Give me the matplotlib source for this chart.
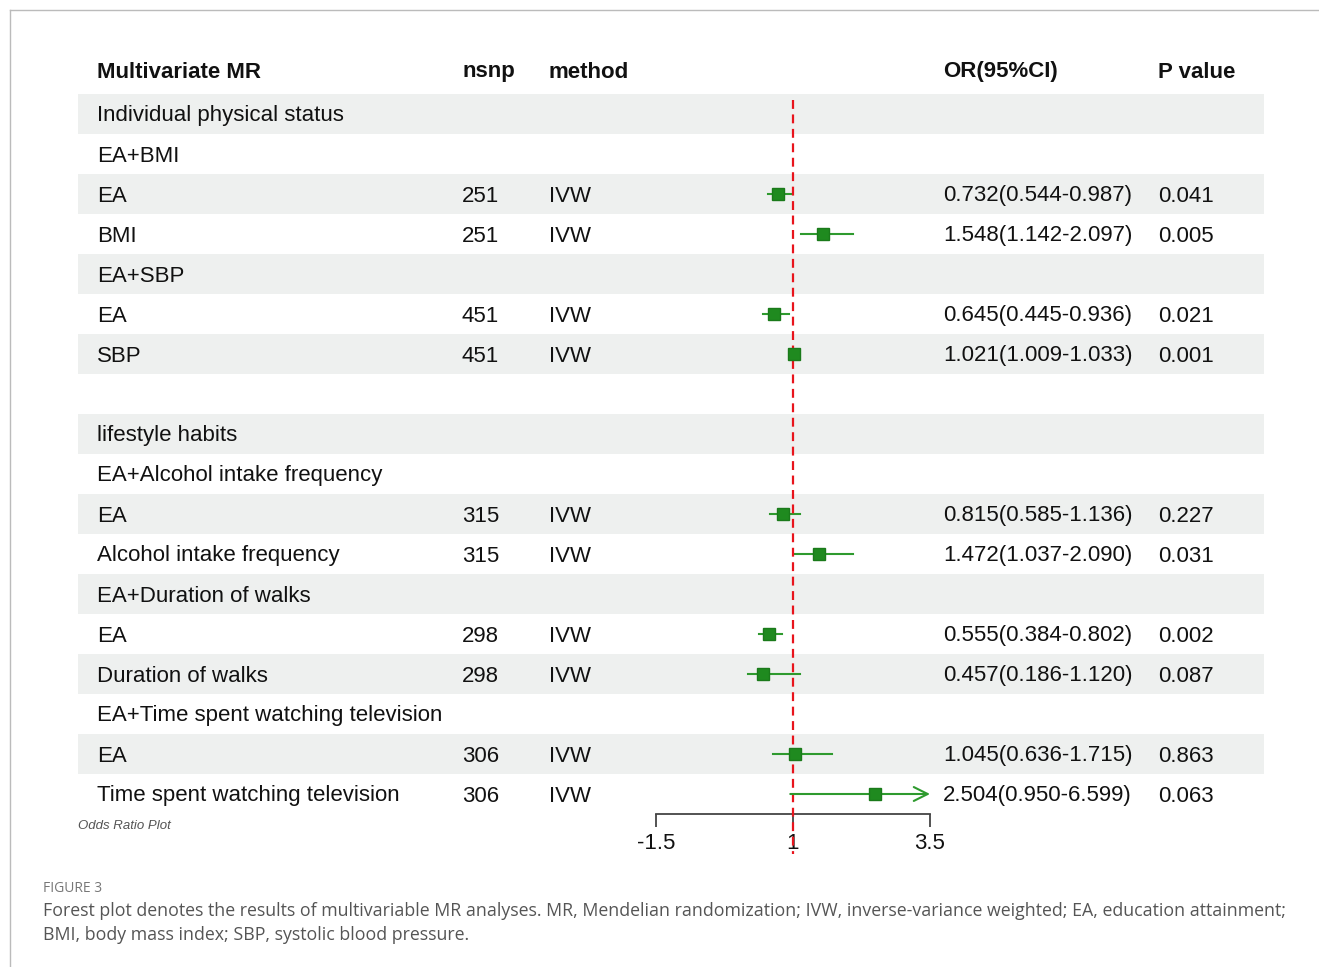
import matplotlib.pyplot as plt
import numpy as np
from matplotlib.lines import Line2D

plt.rcParams['font.family'] = ['Liberation Sans', 'DejaVu Sans']

nan = np.nan

# table rows, top to bottom
labels = ["Individual physical status", "EA+BMI", "EA", "BMI", "EA+SBP", "EA", "SBP", "",
          "lifestyle habits", "EA+Alcohol intake frequency", "EA", "Alcohol intake frequency",
          "EA+Duration of walks", "EA", "Duration of walks", "EA+Time spent watching television",
          "EA", "Time spent watching television"]
nsnp = ["", "", "251", "251", "", "451", "451", "", "", "", "315", "315", "", "298", "298", "", "306", "306"]
method = ["", "", "IVW", "IVW", "", "IVW", "IVW", "", "", "", "IVW", "IVW", "", "IVW", "IVW", "", "IVW", "IVW"]
or_val = [nan, nan, 0.732, 1.548, nan, 0.645, 1.021, nan, nan, nan, 0.815, 1.472, nan, 0.555, 0.457, nan, 1.045, 2.504]
ci_low = [nan, nan, 0.544, 1.142, nan, 0.445, 1.009, nan, nan, nan, 0.585, 1.037, nan, 0.384, 0.186, nan, 0.636, 0.950]
ci_high = [nan, nan, 0.987, 2.097, nan, 0.936, 1.033, nan, nan, nan, 1.136, 2.090, nan, 0.802, 1.120, nan, 1.715, 6.599]
pvals = ["", "", "0.041", "0.005", "", "0.021", "0.001", "", "", "", "0.227", "0.031", "", "0.002", "0.087", "", "0.863", "0.063"]

headers = ["Multivariate MR", "nsnp", "method", "OR(95%CI)", "P value"]
xticks = [-1.5, 1, 3.5]

W, H = 1319, 967
green = '#1f8a1f'
line_green = '#2e9a2e'
band = '#eef0ef'
n = len(labels)

fig = plt.figure(figsize=(W / 100, H / 100), dpi=100)

# rows occupy pixels 94..814 (row -0.5 .. n-0.5)
top_px, bot_px = 94, 814
tab = fig.add_axes([0, 1 - bot_px / H, 1, (bot_px - top_px) / H])
tab.set_xlim(0, W)
tab.set_ylim(n - 0.5, -0.5)
tab.axis('off')

for i in range(n):
    if i % 2 == 0:
        tab.axhspan(i - 0.5, i + 0.5, xmin=78 / W, xmax=1264 / W, color=band, lw=0, zorder=0)

col_x = [97, 462, 549, 943, 1158]
fs = 16
dy = 0.05
for x, h in zip(col_x, headers):
    tab.text(x, -1.1 + dy, h, fontsize=fs, fontweight='bold', va='center', ha='left', color='#111111')

for i in range(n):
    y = i + dy
    tab.text(col_x[0], y, labels[i], fontsize=fs, va='center', color='#111111')
    tab.text(col_x[1], y, nsnp[i], fontsize=fs, va='center', color='#111111')
    tab.text(col_x[2], y, method[i], fontsize=fs, va='center', color='#111111')
    if not np.isnan(or_val[i]):
        tab.text(col_x[3], y, f"{or_val[i]:.3f}({ci_low[i]:.3f}-{ci_high[i]:.3f})",
                 fontsize=fs, va='center', color='#111111')
    tab.text(col_x[4], y, pvals[i], fontsize=fs, va='center', color='#111111')

tab.text(78, n - 0.5 + 0.3, "Odds Ratio Plot", fontsize=9.5, style='italic', color='#555555', va='center')

# forest part
ax = fig.add_axes([656 / W, 1 - bot_px / H, (930 - 656) / W, (bot_px - top_px) / H])
ax.patch.set_alpha(0)
ax.set_xlim(xticks[0], xticks[-1])
ax.set_ylim(n - 0.5, -0.5)
for s in ['top', 'left', 'right']:
    ax.spines[s].set_visible(False)
ax.spines['bottom'].set_color('#444444')
ax.spines['bottom'].set_linewidth(1.3)
ax.set_yticks([])
ax.set_xticks(xticks)
ax.set_xticklabels(['-1.5', '1', '3.5'])
ax.tick_params(axis='x', length=9, width=1.3, color='#444444', labelsize=16, pad=5, labelcolor='#111111')

ax.plot([1, 1], [-0.35, 18.5], color='#e8141c', lw=1.6, ls=(0, (4, 2.5)), clip_on=False, zorder=3)

for i in range(n):
    if np.isnan(or_val[i]):
        continue
    hi = ci_high[i]
    if hi > xticks[-1]:
        ax.annotate('', xy=(xticks[-1], i), xytext=(ci_low[i], i), annotation_clip=False,
                    arrowprops=dict(arrowstyle='->', color=line_green, lw=1.5, mutation_scale=25,
                                    shrinkA=0, shrinkB=0))
    else:
        ax.plot([ci_low[i], hi], [i, i], color=line_green, lw=1.5, zorder=2)
    ax.plot(or_val[i], i, marker='s', ms=8.5, color=green, mec='#1a7a1a', zorder=4)

# frame and caption
fig.add_artist(Line2D([10 / W, 1], [1 - 10 / H, 1 - 10 / H], color='#bbbbbb', lw=1))
fig.add_artist(Line2D([10 / W, 10 / W], [0, 1 - 10 / H], color='#bbbbbb', lw=1))
fig.text(43 / W, 1 - 888 / H, "FIGURE 3", fontsize=10, family='Open Sans', color='#777777', va='center')
fig.text(43 / W, 1 - 911 / H,
         "Forest plot denotes the results of multivariable MR analyses. MR, Mendelian randomization; "
         "IVW, inverse-variance weighted; EA, education attainment;",
         fontsize=12.8, family='Open Sans', color='#555555', va='center')
fig.text(43 / W, 1 - 935 / H, "BMI, body mass index; SBP, systolic blood pressure.",
         fontsize=12.8, family='Open Sans', color='#555555', va='center')

fig.savefig('out.png', dpi=100)
